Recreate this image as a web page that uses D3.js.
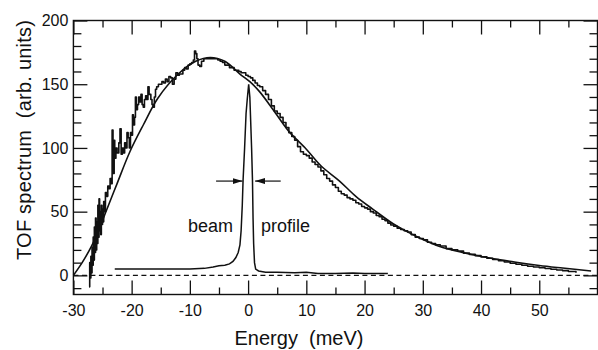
<!DOCTYPE html>
<html>
<head>
<meta charset="utf-8">
<script src="https://d3js.org/d3.v7.min.js"></script>
<style>
  body { margin: 0; background: #fff; }
  svg { display: block; font-family: "Liberation Sans", Arial, sans-serif; }
  .axis text { font-size: 16px; fill: #111; }
  .axis line { stroke: #111; stroke-width: 1.3; }
  .axis path { display: none; }
  text { white-space: pre; }
</style>
</head>
<body>
<script>
// tick values
var xTicks = [-30, -20, -10, 0, 10, 20, 30, 40, 50, 60];
var xMinor = [-25, -15, -5, 5, 15, 25, 35, 45, 55];
var yTicks = [0, 50, 100, 150, 200];
var yMinor = [-10, 10, 20, 30, 40, 60, 70, 80, 90, 110, 120, 130, 140, 160, 170, 180, 190];

// measured TOF spectrum [energy meV, counts]
var spectrum = [
  [-27.3,-9],[-27.2,10],[-27.1,-2],[-27.0,15],[-26.9,2],[-26.8,22],[-26.7,8],[-26.6,30],
  [-26.5,12],[-26.4,38],[-26.3,18],[-26.2,45],[-26.1,20],[-26.0,42],[-25.9,25],[-25.8,55],
  [-25.7,30],[-25.6,60],[-25.5,35],[-25.4,50],[-25.3,32],[-25.2,55],[-25.1,40],[-25.0,52],
  [-24.9,42],[-24.8,58],[-24.6,50],[-24.5,65],[-24.3,62],[-24.1,70],[-23.9,68],[-23.7,76],
  [-23.5,72],[-23.35,114],[-23.2,80],[-23.0,106],[-22.9,92],[-22.7,100],[-22.5,96],[-22.2,104],
  [-22.0,115],[-21.8,95],[-21.6,100],[-21.4,96],[-21.2,104],[-21.0,100],[-20.8,112],[-20.6,108],
  [-20.4,100],[-20.2,112],[-20.0,110],[-19.85,126],[-19.7,118],[-19.5,124],[-19.35,140],[-19.2,130],
  [-19.0,134],[-18.8,140],[-18.6,136],[-18.4,142],[-18.2,134],[-18.0,132],[-17.8,138],[-17.6,141],
  [-17.4,138],[-17.2,148],[-17.0,142],[-16.7,138],[-16.5,134],[-16.3,132],[-16.1,140],[-15.9,146],
  [-15.7,148],[-15.4,150],[-15.1,150],[-14.8,152],[-14.5,151],[-14.2,154],[-13.9,152],[-13.6,156],
  [-13.3,155],[-13.0,150],[-12.7,154],[-12.4,159],[-12.1,157],[-11.8,158],[-11.5,158],[-11.2,161],
  [-10.9,163],[-10.6,162],[-10.3,165],[-10.0,166],[-9.7,167],[-9.4,169],[-9.2,176],[-9.0,174],
  [-8.8,170],[-8.6,165],[-8.3,164],[-8.0,168],[-7.6,170],[-7.2,170],[-6.8,170],[-6.4,170],
  [-6.0,170],[-5.6,170],[-5.2,169],[-4.8,168],[-4.4,167],[-4.0,165],[-3.6,165],[-3.2,163],
  [-2.8,163],[-2.4,161],[-2.0,161],[-1.6,160],[-1.2,159],[-0.8,159],[-0.4,157],[0,156],
  [0.4,155],[0.8,153],[1.2,151],[1.6,149],[2.0,148],[2.5,145],[3.0,142],[3.5,138],
  [4.0,133],[4.5,129],[5.0,127],[5.5,124],[6.0,120],[6.5,116],[7.0,112],[7.5,109],
  [8.0,106],[8.5,101],[9.0,97],[9.5,95],[10.0,94],[10.5,92],[11.0,89],[11.5,87],
  [12.0,85],[12.5,82],[13.0,79],[13.5,76],[14.0,74],[14.5,71],[15.0,69],[15.5,66],
  [16.0,64],[16.5,63],[17.0,61],[17.5,60],[18.0,59],[18.5,57],[19.0,56],[19.5,54],
  [20.0,53],[20.5,52],[21.0,50],[21.5,49],[22.0,47],[22.5,46],[23.0,44],[23.5,43],
  [24.0,41],[24.5,39.5],[25.0,38.5],[25.6,37],[26.2,36],[26.8,35],[27.4,34],[28.0,32],
  [28.7,30],[29.4,29],[30.1,28],[30.8,26],[31.5,25],[32.2,24],[33,23],[34,21],
  [35,20],[36,19],[37,17.5],[38,16.5],[39,15.5],[40,14.5],[41,13.5],[42,12.5],
  [43,11.5],[44,10.5],[45,9.5],[46,8.7],[47,8],[48,7.2],[49,6.6],[50,6],
  [51,5.4],[52,4.8],[53,4.2],[54,3.7],[55,3],[56.3,2]
];

// fitted distribution
var fitCurve = [
  [-30,0],[-28.5,10],[-27,22],[-25.5,37],[-24.5,49],[-22.5,72],[-20.3,97],[-18,118],
  [-15.5,139],[-12,158],[-9,168],[-6.5,171],[-4,168],[-1.4,158],[0.3,152],[2,144],
  [4.3,130],[7,113],[10,99],[12.5,86],[15.7,74],[18.5,62],[21.4,52],[24.9,40.5],
  [27.2,34.5],[29.4,29.5],[32.9,22.7],[37,17.8],[41.5,13.6],[46,10.3],[50,7.8],[54,5.8],[58.9,3.5]
];

// beam profile
var beamProfile = [
  [-22.9,5],[-20,5],[-15,5],[-10,5],[-7.5,5.5],[-6,6.5],[-5,7.5],[-4,8],[-3.2,9],[-2.6,11],
  [-2.1,14],[-1.7,18],[-1.4,24],[-1.2,35],[-1.0,55],[-0.86,75],[-0.6,100],[-0.35,127],
  [-0.15,138],[0.1,150],[0.3,140],[0.45,120],[0.6,100],[0.75,75],[0.85,45],[0.95,25],
  [1.1,10],[1.3,5],[1.8,3.5],[3,2.5],[5,2.5],[8,2],[10,2.5],[12,1.5],[15,1.5],[18,1.8],
  [20,1.5],[22,1.5],[24,1.5]
];

// FWHM arrows [from, to] at height arrowY
var arrowLeft = [-5.5, -0.95];
var arrowRight = [5.6, 1.2];
var arrowY = 74;

var w = 598, h = 350;
var mLeft = 73.4, mRight = 597.5, mTop = 20.5, mBottom = 294.5;

var svg = d3.select("body").append("svg").attr("width", w).attr("height", h);

var x = d3.scaleLinear().domain([-30, 60]).range([mLeft, mRight]);
var y = d3.scaleLinear().domain([-15, 200]).range([mBottom, mTop]);

// axes - all ticks point inward
svg.append("g").attr("class", "axis")
  .attr("transform", "translate(0," + mBottom + ")")
  .call(d3.axisBottom(x).tickValues(xTicks).tickSize(-14).tickSizeOuter(0).tickPadding(10)
    .tickFormat(function(d) { return d == 60 ? "" : d; }));
svg.append("g").attr("class", "axis")
  .attr("transform", "translate(0," + mBottom + ")")
  .call(d3.axisBottom(x).tickValues(xMinor).tickSize(-7).tickFormat(""));
svg.append("g").attr("class", "axis")
  .attr("transform", "translate(0," + mTop + ")")
  .call(d3.axisTop(x).tickValues(xTicks).tickSize(-14).tickFormat(""));
svg.append("g").attr("class", "axis")
  .attr("transform", "translate(0," + mTop + ")")
  .call(d3.axisTop(x).tickValues(xMinor).tickSize(-7).tickFormat(""));

svg.append("g").attr("class", "axis")
  .attr("transform", "translate(" + mLeft + ",0)")
  .call(d3.axisLeft(y).tickValues(yTicks).tickSize(-14).tickPadding(5));
svg.append("g").attr("class", "axis")
  .attr("transform", "translate(" + mLeft + ",0)")
  .call(d3.axisLeft(y).tickValues(yMinor).tickSize(-8).tickFormat(""));
svg.append("g").attr("class", "axis")
  .attr("transform", "translate(" + mRight + ",0)")
  .call(d3.axisRight(y).tickValues(yTicks).tickSize(-14).tickFormat(""));
svg.append("g").attr("class", "axis")
  .attr("transform", "translate(" + mRight + ",0)")
  .call(d3.axisRight(y).tickValues(yMinor).tickSize(-8).tickFormat(""));

// frame
svg.append("rect")
  .attr("x", mLeft).attr("y", mTop)
  .attr("width", mRight - mLeft).attr("height", mBottom - mTop)
  .attr("fill", "none").attr("stroke", "#111").attr("stroke-width", 1.4);

// zero line
svg.append("line")
  .attr("x1", x(-30)).attr("x2", x(60))
  .attr("y1", y(0)).attr("y2", y(0))
  .attr("stroke", "#111").attr("stroke-width", 1.2)
  .attr("stroke-dasharray", "5,3.5");

var stepLine = d3.line()
  .x(function(d) { return x(d[0]); })
  .y(function(d) { return y(d[1]); })
  .curve(d3.curveStepAfter);

var smoothLine = d3.line()
  .x(function(d) { return x(d[0]); })
  .y(function(d) { return y(d[1]); })
  .curve(d3.curveCatmullRom.alpha(0.5));

var plainLine = d3.line()
  .x(function(d) { return x(d[0]); })
  .y(function(d) { return y(d[1]); });

svg.append("path").datum(fitCurve)
  .attr("d", smoothLine)
  .attr("fill", "none").attr("stroke", "#111").attr("stroke-width", 1.6);

svg.append("path").datum(spectrum)
  .attr("d", stepLine)
  .attr("fill", "none").attr("stroke", "#111").attr("stroke-width", 1.6)
  .attr("stroke-linejoin", "round");

svg.append("path").datum(beamProfile)
  .attr("d", plainLine)
  .attr("fill", "none").attr("stroke", "#111").attr("stroke-width", 1.5);

// arrows
svg.append("defs").append("marker")
  .attr("id", "head")
  .attr("viewBox", "0 0 10 6")
  .attr("refX", 10).attr("refY", 3)
  .attr("markerWidth", 10).attr("markerHeight", 6)
  .attr("markerUnits", "userSpaceOnUse")
  .attr("orient", "auto")
  .append("path").attr("d", "M0,0L10,3L0,6Z").attr("fill", "#111");

[arrowLeft, arrowRight].forEach(function(a) {
  svg.append("line")
    .attr("x1", x(a[0])).attr("x2", x(a[1]))
    .attr("y1", y(arrowY)).attr("y2", y(arrowY))
    .attr("stroke", "#111").attr("stroke-width", 1.2)
    .attr("marker-end", "url(#head)");
});

// labels
svg.append("text")
  .attr("x", 188).attr("y", 232)
  .style("font-size", "18px").attr("fill", "#111")
  .text("beam");
svg.append("text")
  .attr("x", 261).attr("y", 232)
  .style("font-size", "18px").attr("fill", "#111")
  .text("profile");

svg.append("text")
  .attr("x", 299).attr("y", 345)
  .attr("text-anchor", "middle")
  .style("font-size", "20px").attr("fill", "#111")
  .text("Energy  (meV)");

svg.append("text")
  .attr("transform", "translate(31,140) rotate(-90)")
  .attr("text-anchor", "middle")
  .style("font-size", "20px").attr("fill", "#111")
  .attr("textLength", 240).attr("lengthAdjust", "spacing")
  .text("TOF spectrum  (arb. units)");
</script>
</body>
</html>
